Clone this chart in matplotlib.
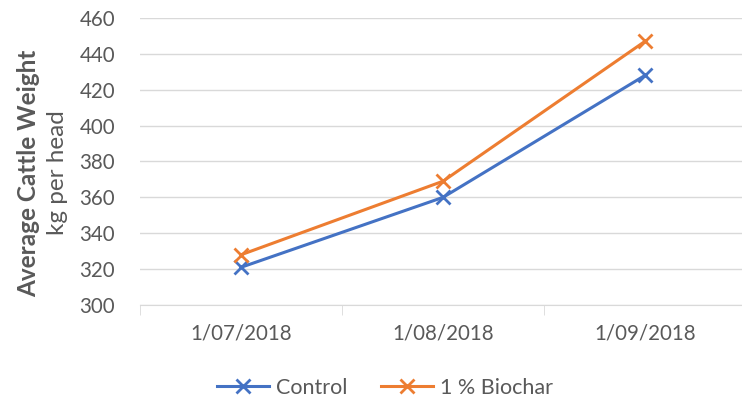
import matplotlib.pyplot as plt
import numpy as np

# cattle weights
dates = ['1/07/2018', '1/08/2018', '1/09/2018']
control = [321, 360, 428]
biochar = [328, 369, 447]

plt.rcParams['font.family'] = ['Lato', 'DejaVu Sans']

fig = plt.figure(figsize=(7.42, 4.01), dpi=100)
ax = fig.add_axes([140/742, 1 - 305/401, 606/742, 287/401])

x = np.arange(len(dates))
ax.plot(x, control, color='#4472C4', lw=2.2, marker='x', ms=10, mew=2, label='Control')
ax.plot(x, biochar, color='#ED7D31', lw=2.2, marker='x', ms=10, mew=2, label='1 % Biochar')

ax.set_xlim(-0.5, 2.5)
ax.set_ylim(300, 460)
ax.set_yticks(range(300, 461, 20))
ax.set_xticks(x)
ax.set_xticklabels(dates)
ax.set_xticks([-0.5, 0.5, 1.5, 2.5], minor=True)

ax.grid(axis='y', color='#D9D9D9', lw=1)
ax.set_axisbelow(True)
for s in ['top', 'right', 'left']:
    ax.spines[s].set_visible(False)
ax.spines['bottom'].set_color('#D9D9D9')
ax.tick_params(axis='y', length=0, labelsize=14.8, labelcolor='#595959', pad=18)
ax.tick_params(axis='x', which='major', length=0, labelsize=14.8, labelcolor='#595959', pad=13)
ax.tick_params(axis='x', which='minor', length=7, color='#D9D9D9')

fig.text(29/742, 1 - 173/401, 'Average Cattle Weight', rotation=90, ha='center', va='center',
         fontsize=17.5, fontweight='bold', color='#595959')
fig.text(57/742, 1 - 173/401, 'kg per head', rotation=90, ha='center', va='center',
         fontsize=17.5, color='#595959')

fig.legend(loc='center', bbox_to_anchor=(385/742, 1 - 388/401), ncol=2, frameon=False,
           fontsize=15.5, labelcolor='#595959', handlelength=2.4, columnspacing=1.6, handletextpad=0.3)

fig.savefig('out.png', dpi=100)
